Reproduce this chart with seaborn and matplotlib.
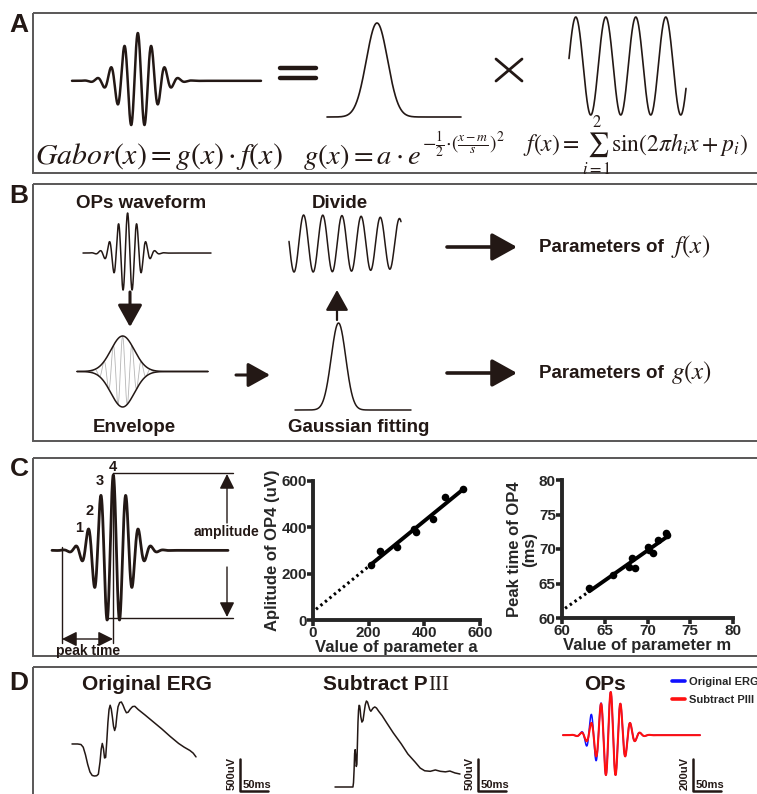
import numpy as np
import matplotlib
matplotlib.use("Agg")
import matplotlib.pyplot as plt
import seaborn as sns

# panel C scatter data
param_a = [208, 241, 301, 362, 370, 432, 475, 540]
amp_op4 = [238, 296, 316, 392, 380, 437, 530, 566]
param_m = [63.2, 66.0, 67.8, 68.2, 68.5, 70.0, 70.2, 70.7, 71.2, 72.2, 72.3]
peak_op4 = [64.4, 66.3, 67.4, 68.7, 67.3, 70.3, 69.8, 69.4, 71.3, 72.3, 72.0]

# Gabor parameters of the schematic OPs (t in ms, h in kHz, p in rad)
gabor_a = 1.0
gabor_m = 69.0
gabor_s = 10.0
gabor_h = [0.125]
gabor_p = [-2.36]
divide_h = [0.125, 0.129]
divide_p = [-2.36, 2.6]
early_bump = [0.2, 53.0, 3.5]   # extra early wave in the OPs of the original ERG

ops_span = [30, 142]
sine_span = [51.2, 82.4]
divide_span = [47, 93]
gauss_span_a = [22, 148]
gauss_span_b = [9, 169]

# ERG traces (ms, uV)
erg_t = [0, 10, 16, 20, 24, 28, 32, 36, 40, 44, 47, 50, 52, 54, 56, 58, 60, 62, 64, 66,
         68, 70, 72, 74, 76, 78, 80, 82, 85, 88, 91, 94, 97, 100, 104, 108, 112, 118,
         130, 145, 160, 175, 190, 200, 210, 216, 221]
erg_v = [0, 0, -10, -60, -200, -380, -520, -585, -595, -590, -560, -330, -100, 10, -80,
         -260, -250, 50, 400, 640, 720, 650, 500, 330, 250, 320, 530, 690, 770, 780, 720,
         640, 580, 590, 650, 695, 700, 640, 540, 410, 280, 140, 10, -60, -120, -170, -240]
piii_t = [0, 20, 32, 33, 34, 35, 36, 37, 38, 39, 40, 41, 42, 43, 44, 45, 46, 48, 50, 52,
          54, 56, 58, 60, 62, 64, 66, 68, 71, 74, 78, 84, 92, 104, 118, 130, 143, 152,
          160, 170, 179, 188, 197, 205, 214, 223]
piii_v = [0, 0, 0, 80, 300, 620, 690, 560, 380, 420, 800, 1200, 1420, 1510, 1500, 1420,
          1300, 1200, 1230, 1380, 1520, 1590, 1570, 1500, 1430, 1400, 1430, 1460, 1480,
          1460, 1400, 1320, 1190, 1000, 800, 610, 460, 350, 300, 290, 315, 290, 280, 295,
          260, 240]

sns.set_style("ticks")
plt.rcParams["font.family"] = ["Liberation Sans", "DejaVu Sans"]
plt.rcParams["mathtext.fontset"] = "stix"

INK = "#231815"
FRAME = "#595757"
W, H = 757, 794


def gauss(t, a, m, s):
    return a * np.exp(-0.5 * ((t - m) / s) ** 2)


def carrier(t, h, p):
    return sum(np.sin(2 * np.pi * hi * t + pi) for hi, pi in zip(h, p))


def gabor(t):
    return gauss(t, gabor_a, gabor_m, gabor_s) * carrier(t, gabor_h, gabor_p)


fig = plt.figure(figsize=(W / 100, H / 100), dpi=100)
canvas = fig.add_axes([0, 0, 1, 1])
canvas.set_xlim(0, W)
canvas.set_ylim(H, 0)
canvas.set_axis_off()
renderer = fig.canvas.get_renderer()


def wave(x0, x1, y_top, y_bot, t, v, color=INK, lw=1.3, ax=None, label=None, lims=None):
    if ax is None:
        ax = fig.add_axes([x0 / W, 1 - y_bot / H, (x1 - x0) / W, (y_bot - y_top) / H])
    sns.lineplot(x=t, y=v, ax=ax, color=color, lw=lw, sort=False, estimator=None, label=label)
    if lims is None:
        lims = (min(v), max(v))
    ax.set_xlim(min(t), max(t))
    ax.set_ylim(*lims)
    ax.set_axis_off()
    for ln in ax.lines:
        ln.set_clip_on(False)
    return ax


def arrow(x0, y0, x1, y1, lw=2.2, scale=14, style="-|>", hl=0.9, hw=0.5):
    canvas.annotate("", xy=(x1, y1), xytext=(x0, y0),
                    arrowprops=dict(arrowstyle=f"{style},head_length={hl},head_width={hw}",
                                    lw=lw, color=INK, mutation_scale=scale,
                                    shrinkA=0, shrinkB=0))


def bold(x, y, s, size=13, **kw):
    kw.setdefault("ha", "center")
    kw.setdefault("va", "center")
    return canvas.text(x, y, s, fontsize=size, fontweight="bold", color=INK, **kw)


def right_of(txt, gap=0):
    return txt.get_window_extent(renderer).x1 + gap


# frames and panel letters
for y0, y1 in [(13, 173), (184, 441), (458, 656), (667, 820)]:
    canvas.add_patch(plt.Rectangle((33, y0), 740, y1 - y0, fill=False, ec=FRAME, lw=1.4))
for lab, y in zip("ABCD", [25, 196, 469, 683]):
    bold(19, y, lab, size=19)

# ---- A
t_ops = np.linspace(*ops_span, 900)
wave(72, 261, 33, 125, t_ops, gabor(t_ops), lw=1.8)
t_ga = np.linspace(*gauss_span_a, 500)
wave(327, 461, 23, 117, t_ga, gauss(t_ga, gabor_a, gabor_m, gabor_s), lw=1.2)
t_sin = np.linspace(*sine_span, 500)
wave(569, 686, 17, 115, t_sin, carrier(t_sin, gabor_h, gabor_p), lw=1.2)
canvas.plot([280, 316], [68, 68], color=INK, lw=3.2)
canvas.plot([280, 316], [78, 78], color=INK, lw=3.2)
canvas.plot([496, 522], [59, 81], color=INK, lw=2)
canvas.plot([496, 522], [81, 59], color=INK, lw=2)
canvas.text(35, 164, r"$Gabor(x)=g(x)\cdot f(x)$", fontsize=21.5, va="baseline", color=INK)
g_txt = canvas.text(303, 164, r"$g(x)=a\cdot e$", fontsize=20.5, va="baseline", color=INK)
canvas.text(right_of(g_txt, 1), 144, r"$-\frac{1}{2}\!\cdot\!(\frac{x-m}{s})^2$",
            fontsize=14, va="center", ha="left", color=INK)
canvas.text(523, 152, r"$f(x)=\sum_{i=1}^{2}\sin(2\pi h_i x+p_i)$", fontsize=17,
            va="baseline", color=INK)

# ---- B
bold(141, 203, "OPs waveform", size=13.5)
wave(83, 211, 213, 290, t_ops, gabor(t_ops), lw=1.1)
arrow(130, 292, 130, 327, scale=15)
env = gauss(t_ops, gabor_a, gabor_m, gabor_s)
ax_env = wave(77, 208, 336, 407, t_ops, gabor(t_ops), color="#b5b5b5", lw=0.6)
wave(0, 0, 0, 0, t_ops, env, ax=ax_env, lw=1.1, lims=(-1, 1))
wave(0, 0, 0, 0, t_ops, -env, ax=ax_env, lw=1.1, lims=(-1, 1))
bold(134, 428, "Envelope", size=13.5)
arrow(236, 375, 270, 375, scale=15)
t_gb = np.linspace(*gauss_span_b, 500)
wave(295, 411, 323, 410, t_gb, gauss(t_gb, gabor_a, gabor_m, gabor_s), lw=1.1)
bold(359, 428, "Gaussian fitting", size=13.5)
arrow(337, 320, 337, 290, lw=1.6, scale=14)
t_div = np.linspace(*divide_span, 500)
wave(289, 401, 215, 272, t_div, carrier(t_div, divide_h, divide_p), lw=1.1)
bold(340, 203, "Divide", size=13.5)
for y, fn in [(247, "f(x)"), (373, "g(x)")]:
    arrow(447, y, 517, y, lw=2.6, scale=17)
    txt = bold(539, y, "Parameters of ", size=13.5, ha="left")
    canvas.text(right_of(txt, 2), y, f"${fn}$", fontsize=18, va="center", ha="left",
                color=INK)

# ---- C
wave(52, 228, 475, 620, t_ops, gabor(t_ops), lw=2.0)
for s, x, y in [("1", 79, 528), ("2", 90, 511), ("3", 100, 481), ("4", 113, 467)]:
    bold(x, y, s, size=10.5)
canvas.plot([113, 233], [473, 473], color=INK, lw=1)
canvas.plot([108, 233], [618, 618], color=INK, lw=1)
canvas.plot([62, 62], [547, 643], color=INK, lw=1)
canvas.plot([113, 113], [473, 643], color=INK, lw=1)
arrow(227, 523, 227, 474, lw=1, scale=9, hl=1.0, hw=0.5)
arrow(227, 567, 227, 617, lw=1, scale=9, hl=1.0, hw=0.5)
arrow(62, 639, 113, 639, lw=1, scale=9, style="<|-|>", hl=1.0, hw=0.5)
bold(226, 532, "amplitude", size=10)
bold(88, 651, "peak time", size=10)


def scatter_panel(rect, x, y, lim, ticks, xlabel, ylabel, pad):
    ax = fig.add_axes(rect)
    sns.regplot(x=x, y=y, ax=ax, ci=None, color="black", truncate=True,
                scatter_kws=dict(s=30, linewidths=0, alpha=1), line_kws=dict(lw=2.8))
    k, b = np.polyfit(x, y, 1)
    xs = np.array([lim[0] + (lim[1] - lim[0]) * 0.018, min(x)])
    ax.plot(xs, k * xs + b, ls=(0, (0.8, 1.1)), color="black", lw=2.2)
    ax.set_xlim(*lim)
    ax.set_ylim(*lim)
    ax.set_xticks(ticks)
    ax.set_yticks(ticks)
    sns.despine(ax=ax)
    for sp in ["left", "bottom"]:
        ax.spines[sp].set_linewidth(2.8)
    ax.tick_params(width=2.6, length=4, labelsize=11, pad=0.5)
    for lbl in ax.get_xticklabels() + ax.get_yticklabels():
        lbl.set_fontweight("bold")
    ax.set_xlabel(xlabel, fontsize=12, fontweight="bold", labelpad=0)
    ax.set_ylabel(ylabel, fontsize=12, fontweight="bold", labelpad=pad, linespacing=1.0)
    return ax


scatter_panel([313 / W, 1 - 620 / H, 167 / W, 139 / H], param_a, amp_op4, (0, 600),
              [0, 200, 400, 600], "Value of parameter a", "Aplitude of OP4 (uV)", 1)
scatter_panel([562 / W, 1 - 618 / H, 171 / W, 138 / H], param_m, peak_op4, (60, 80),
              [60, 65, 70, 75, 80], "Value of parameter m", "Peak time of OP4\n(ms)", 1)

# ---- D
bold(147, 685, "Original ERG", size=15)
wave(72, 196, 702, 776, erg_t, erg_v, lw=1.1)
sub = bold(323, 685, "Subtract P", size=15, ha="left")
canvas.text(right_of(sub, 1), 685, "III", fontsize=15, family="Liberation Serif",
            va="center", ha="left", color=INK)
wave(335, 460, 701, 787, piii_t, piii_v, lw=1.1)
bold(605, 685, "OPs", size=15)
red = gabor(t_ops)
ops_blue = red + gauss(t_ops, *early_bump) * carrier(t_ops, gabor_h, gabor_p)
ax_ops = wave(563, 700, 692, 775, t_ops, ops_blue, color="#1010ff", lw=1.1,
              label="Original ERG", lims=(red.min(), red.max()))
wave(0, 0, 0, 0, t_ops, red, ax=ax_ops, color="#ff1010", lw=1.5, label="Subtract PIII",
     lims=(red.min(), red.max()))
leg = ax_ops.legend(loc="upper left", bbox_to_anchor=(672 / W, 1 - 677 / H),
                    bbox_transform=fig.transFigure, frameon=False,
                    prop=dict(weight="bold", size=8), handlelength=1.2,
                    handletextpad=0.3, labelspacing=0.75, borderpad=0, borderaxespad=0)
for ln in leg.get_lines():
    ln.set_linewidth(2.6)

for xv, lab in [(240, "500uV"), (478, "500uV"), (693, "200uV")]:
    canvas.plot([xv, xv, xv + 28], [759, 791, 791], color=INK, lw=1.8)
    bold(xv - 8, 774, lab, size=8, rotation=90)
    bold(xv + 3, 785, "50ms", size=8, ha="left")

fig.savefig("out.png", dpi=100, facecolor="white")
